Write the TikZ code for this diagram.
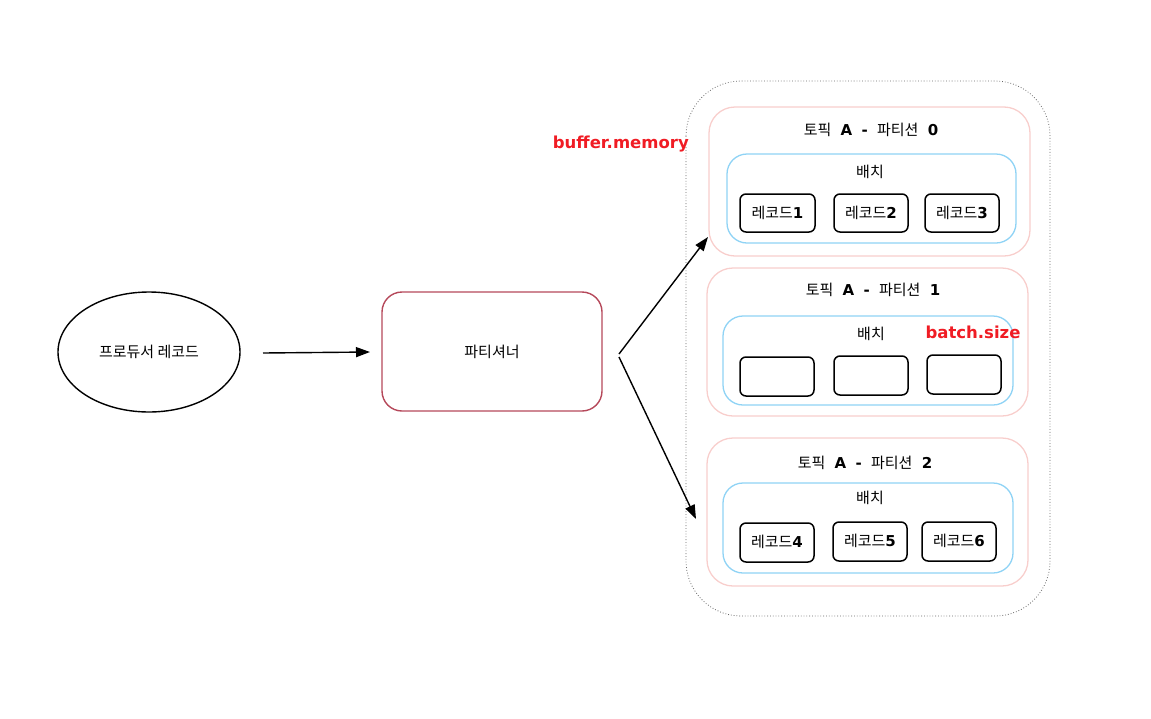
\documentclass[tikz,border=0pt]{standalone}
\usepackage{fontspec}
\setmainfont{Noto Sans CJK KR}
\newfontfamily\latf{DejaVu Sans}
\usetikzlibrary{arrows.meta,shapes.geometric}
\definecolor{partred}{HTML}{B5485A}
\definecolor{pinkline}{HTML}{F8CECC}
\definecolor{blueline}{HTML}{8FD3F5}
\definecolor{redtxt}{HTML}{F01C24}
\newcommand{\asc}[1]{{\latf\bfseries #1}}
\newcommand{\gap}{\hspace{0.62em}}
\begin{document}
\begin{tikzpicture}[x=1pt,y=-1pt,
  txt/.style={font=\fontsize{15}{17}\selectfont, inner sep=0pt},
  rec/.style={draw=black, line width=1.5pt, rounded corners=6pt},
  part/.style={draw=pinkline, line width=1.3pt, rounded corners=26pt},
  batchbox/.style={draw=blueline, line width=1.3pt, rounded corners=20pt},
  arr/.style={line width=1.4pt, -{Triangle[length=14pt,width=10pt]}},
  redlbl/.style={text=redtxt, font=\latf\bfseries\fontsize{16.5}{18}\selectfont, inner sep=0pt}]
\useasboundingbox (0,0) rectangle (1151,718);
% producer
\node[draw, ellipse, line width=1.4pt, minimum width=182pt, minimum height=120pt, txt] (prod) at (149,352) {프로듀서 레코드};
\coordinate (p1) at (263,353);
\coordinate (p2) at (370,352);
\draw[arr] (p1) -- (p2);
% partitioner
\draw[draw=partred, line width=1.4pt, rounded corners=20pt] (382,292) rectangle (602,411);
\node[txt] (partn) at (492,352) {파티셔너};
% outer dotted
\draw[gray!80!black, dotted, line width=0.8pt, rounded corners=55pt] (686,81) rectangle (1050,616);
\node[redlbl, anchor=east] (bm) at (689,144) {buffer.memory};
% arrows from partitioner
\coordinate (s1) at (619,354);
\coordinate (e1) at (708,237);
\coordinate (s2) at (619,357);
\coordinate (e2) at (696,519);
\draw[arr] (s1) -- (e1);
\draw[arr] (s2) -- (e2);
% partition 0
\draw[part] (709,107) rectangle (1030,256);
\node[txt] (t0) at (871,130) {토픽\gap\asc{A}\gap\asc{-}\gap 파티션\gap\asc{0}};
\draw[batchbox] (727,154) rectangle (1016,243);
\node[txt] (b0) at (870,172) {배치};
\draw[rec] (740,194) rectangle (815,232);
\draw[rec] (834,194) rectangle (908,232);
\draw[rec] (925,194) rectangle (999,232);
\node[txt] (r1) at (777.5,213) {레코드\asc{1}};
\node[txt] (r2) at (871,213) {레코드\asc{2}};
\node[txt] (r3) at (962,213) {레코드\asc{3}};
% partition 1
\draw[part] (707,268) rectangle (1028,416);
\node[txt] (t1) at (873,290) {토픽\gap\asc{A}\gap\asc{-}\gap 파티션\gap\asc{1}};
\draw[batchbox] (723,316) rectangle (1013,405);
\node[txt] (b1) at (871,334) {배치};
\node[redlbl] (bs) at (973,332) {batch.size};
\draw[rec] (740,357) rectangle (814,396);
\draw[rec] (834,356) rectangle (908,395);
\draw[rec] (927,355) rectangle (1001,394);
% partition 2
\draw[part] (707,438) rectangle (1028,586);
\node[txt] (t2) at (865,463) {토픽\gap\asc{A}\gap\asc{-}\gap 파티션\gap\asc{2}};
\draw[batchbox] (723,483) rectangle (1013,573);
\node[txt] (b2) at (870,498) {배치};
\draw[rec] (740,523) rectangle (814,562);
\draw[rec] (833,522) rectangle (907,561);
\draw[rec] (922,522) rectangle (996,561);
\node[txt] (r4) at (777,542) {레코드\asc{4}};
\node[txt] (r5) at (870,541) {레코드\asc{5}};
\node[txt] (r6) at (959,541) {레코드\asc{6}};
\end{tikzpicture}
\end{document}
